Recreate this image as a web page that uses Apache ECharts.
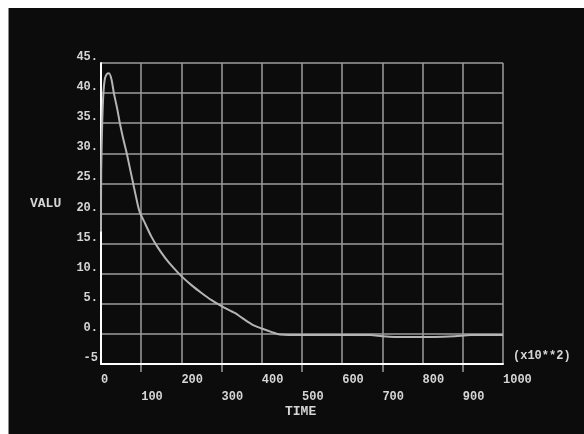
<!DOCTYPE html>
<html>
<head>
<meta charset="utf-8">
<script src="https://cdn.jsdelivr.net/npm/echarts@6/dist/echarts.min.js"></script>
<style>
html,body{margin:0;padding:0;background:#ffffff;width:584px;height:434px;overflow:hidden;}
#wrap{position:absolute;left:8px;top:8px;width:576px;height:426px;background:#0c0c0c;border-left:1px solid #8a8a8a;}
#chart{position:absolute;left:0;top:0;width:576px;height:426px;}
</style>
</head>
<body>
<div id="wrap"><div id="chart"></div></div>
<script>
// Data
var timeValues = [0, 0.5, 3, 6, 10, 15, 20, 26, 32, 40, 47, 55, 64, 72, 80, 88, 96, 110, 125, 140, 160, 180, 200, 225, 250, 275, 300, 320, 335, 350, 375, 400, 425, 445, 500, 600, 670, 700, 730, 780, 830, 880, 920, 960, 1000];
var seriesValues = [17, 27, 35, 40, 42.5, 43.2, 43.3, 42.3, 40, 37.5, 35, 32.5, 30, 27.5, 25, 22.5, 20.3, 18.3, 16.2, 14.5, 12.6, 11, 9.6, 8.1, 6.8, 5.6, 4.6, 3.9, 3.4, 2.7, 1.6, 0.9, 0.3, -0.1, -0.2, -0.2, -0.2, -0.4, -0.5, -0.5, -0.5, -0.4, -0.2, -0.2, -0.2];
var xTickValues = [0, 100, 200, 300, 400, 500, 600, 700, 800, 900, 1000];
var xOddTicks = [100, 300, 500, 700, 900];
var yTickValues = [-5, 0, 5, 10, 15, 20, 25, 30, 35, 40, 45];
var yAxisTitle = 'VALU';
var xAxisTitle = 'TIME';
var xScaleNote = '(x10**2)';

var FONT = 'Liberation Mono';
var TXT = '#d6d6d6';
var GRIDC = '#9c9c9c';

var points = timeValues.map(function (t, i) { return [t, seriesValues[i]]; });

var chart = echarts.init(document.getElementById('chart'));
chart.setOption({
  backgroundColor: 'transparent',
  animation: false,
  grid: [
    { left: 92, top: 55, right: 82, bottom: 70, containLabel: false },
    { left: 92, top: 356, right: 82, height: 8, containLabel: false }
  ],
  xAxis: [{
    type: 'value', min: 0, max: 1000, interval: 100, position: 'bottom', gridIndex: 0,
    axisLine: { show: true, onZero: false, lineStyle: { color: '#ffffff', width: 2 } },
    axisTick: { show: false },
    splitLine: { show: false },
    axisLabel: {
      customValues: xTickValues,
      margin: 10,
      align: 'left',
      verticalAlign: 'top',
      formatter: function (v) { return (v % 200 === 0) ? '{e|' + v + '}' : '{o|' + v + '}'; },
      rich: {
        e: { fontFamily: FONT, fontWeight: 'bold', fontSize: 12, color: TXT },
        o: { fontFamily: FONT, fontWeight: 'bold', fontSize: 12, color: TXT, padding: [17, 0, 0, 0] }
      }
    },
    z: 3
  }, {
    type: 'value', min: 0, max: 1000, interval: 100, position: 'top', gridIndex: 0,
    axisLine: { show: false },
    axisTick: { show: false },
    axisLabel: { show: false },
    splitLine: { show: true, lineStyle: { color: GRIDC, width: 1.5 } }
  }, {
    type: 'value', min: 0, max: 1000, interval: 100, position: 'bottom', gridIndex: 1,
    axisLine: { show: false },
    axisTick: { show: true, customValues: xOddTicks, length: 0, lineStyle: { color: GRIDC, width: 1.5 } },
    axisLabel: { show: false },
    splitLine: { show: true, lineStyle: { color: GRIDC, width: 1.5 } }
  }],
  yAxis: [{
    type: 'value', min: -5, max: 45, interval: 5, gridIndex: 0,
    axisLine: { show: true, onZero: false, lineStyle: { color: '#ffffff', width: 2 } },
    axisTick: { show: false },
    splitLine: { show: true, lineStyle: { color: GRIDC, width: 1.5 } },
    axisLabel: {
      customValues: yTickValues,
      margin: 3,
      verticalAlign: 'bottom',
      lineHeight: 12,
      fontFamily: FONT, fontWeight: 'bold', fontSize: 12, color: TXT,
      formatter: function (v) { return v < 0 ? String(v) : v + '.'; }
    },
    z: 3
  }, {
    type: 'value', min: 0, max: 1, gridIndex: 1, show: false
  }],
  graphic: [
    { type: 'text', left: 21, top: 189, style: { text: yAxisTitle, fontFamily: FONT, fontWeight: 'bold', fontSize: 13, fill: TXT } },
    { type: 'text', left: 276, top: 397, style: { text: xAxisTitle, fontFamily: FONT, fontWeight: 'bold', fontSize: 13, fill: TXT } },
    { type: 'text', left: 504, top: 342, style: { text: xScaleNote, fontFamily: FONT, fontWeight: 'bold', fontSize: 12, fill: TXT } }
  ],
  series: [{
    type: 'line',
    xAxisIndex: 0,
    yAxisIndex: 0,
    data: points,
    showSymbol: false,
    smooth: 0.3,
    lineStyle: { color: '#b4b4b4', width: 2 },
    z: 5
  }]
});
</script>
</body>
</html>
